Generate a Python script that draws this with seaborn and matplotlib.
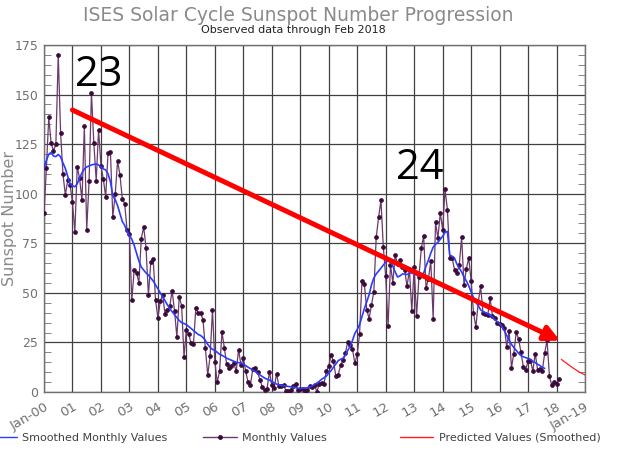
import numpy as np
import pandas as pd
import seaborn as sns
import matplotlib.pyplot as plt
from matplotlib.lines import Line2D

# monthly sunspot numbers, Jan 2000 .. Feb 2018
monthly_values = [
    90.1, 112.9, 138.5, 125.5, 121.6, 124.9, 170.1, 130.5, 109.7, 99.4, 106.8, 104.4,
    95.6, 80.6, 113.5, 107.7, 96.6, 134.0, 81.8, 106.4, 150.7, 125.5, 106.5, 132.2,
    114.1, 107.4, 98.4, 120.7, 120.8, 88.3, 99.6, 116.4, 109.6, 97.5, 95.0, 81.6,
    79.5, 46.2, 61.5, 60.0, 55.2, 77.4, 83.3, 72.7, 48.7, 65.5, 67.3, 46.5,
    37.3, 45.8, 49.1, 39.3, 41.5, 43.2, 51.1, 40.9, 27.7, 48.0, 43.5, 17.9,
    31.3, 29.2, 24.5, 24.4, 42.6, 39.6, 39.9, 36.4, 22.1, 8.5, 18.0, 41.2,
    15.3, 4.9, 10.6, 30.2, 22.3, 13.9, 12.2, 12.9, 14.4, 10.5, 21.4, 13.6,
    16.9, 10.6, 4.8, 3.7, 11.7, 12.0, 10.0, 6.2, 2.4, 0.9, 1.7, 10.1,
    3.3, 2.1, 9.3, 2.9, 3.2, 3.4, 0.5, 0.5, 1.1, 2.9, 4.1, 0.8,
    1.5, 1.4, 0.7, 1.2, 2.9, 2.6, 3.5, 0.0, 4.2, 4.6, 4.2, 10.6,
    13.1, 18.6, 15.4, 7.9, 8.8, 13.5, 16.1, 19.6, 25.2, 23.5, 21.6, 14.5,
    19.0, 29.4, 56.2, 54.4, 41.6, 37.0, 43.9, 50.6, 78.0, 88.0, 96.7, 73.0,
    58.3, 33.1, 64.2, 55.2, 69.0, 64.5, 66.5, 63.0, 61.4, 53.3, 61.8, 40.8,
    62.9, 38.1, 57.9, 72.4, 78.7, 52.5, 57.0, 66.0, 37.0, 85.6, 77.6, 90.3,
    81.8, 102.3, 91.9, 67.5, 67.5, 61.7, 60.1, 64.1, 78.0, 54.0, 62.2, 67.7,
    55.8, 40.0, 32.7, 45.2, 53.3, 39.9, 39.5, 38.6, 47.2, 38.2, 37.3, 34.8,
    34.2, 33.8, 32.5, 22.7, 30.9, 12.3, 19.4, 30.1, 26.8, 20.0, 12.8, 11.1,
    15.7, 15.8, 10.6, 19.4, 11.3, 11.5, 10.7, 19.6, 26.2, 7.9, 3.4, 4.9,
    4.1, 6.4,
]

# 13-month smoothed values, Jan 2000 .. Aug 2017
smoothed_values = [
    112.9, 116.8, 119.9, 120.8, 119.0, 118.7, 119.8, 118.6, 115.5, 112.7, 108.8, 104.8,
    104.0, 103.5, 105.0, 108.0, 110.5, 112.5, 113.5, 114.0, 114.5, 114.8, 115.0, 114.5,
    113.5, 112.5, 112.0, 110.0, 106.0, 99.0, 97.0, 94.0, 90.0, 86.0, 84.0, 81.0,
    79.0, 77.0, 74.0, 70.0, 66.0, 63.0, 61.5, 60.0, 59.0, 57.5, 56.0, 54.0,
    52.0, 50.0, 48.0, 46.0, 44.0, 42.0, 40.5, 39.0, 37.5, 36.0, 35.0, 34.5,
    34.0, 33.0, 32.0, 31.0, 30.0, 29.0, 28.5, 27.5, 26.0, 24.0, 22.5, 21.5,
    21.0, 20.0, 19.0, 18.5, 17.8, 17.0, 16.5, 16.0, 15.5, 15.0, 14.8, 14.5,
    14.0, 13.3, 12.5, 11.8, 11.0, 10.3, 9.5, 8.6, 7.8, 7.0, 6.5, 6.0,
    5.3, 4.6, 4.0, 3.6, 3.3, 3.2, 3.0, 2.8, 2.6, 2.4, 2.2, 1.9,
    1.8, 1.9, 2.0, 2.2, 2.5, 3.0, 3.8, 4.5, 5.4, 6.4, 7.2, 8.0,
    9.5, 10.8, 12.5, 14.2, 15.8, 16.5, 17.0, 18.5, 21.0, 23.0, 26.0, 29.5,
    31.5, 34.0, 38.0, 42.0, 45.5, 49.0, 54.0, 57.5, 59.5, 61.0, 62.5, 64.0,
    65.5, 66.5, 65.5, 63.5, 60.5, 58.0, 58.5, 59.5, 59.5, 59.2, 60.0, 60.0,
    59.5, 59.0, 58.5, 58.5, 60.0, 63.5, 66.5, 70.0, 73.0, 74.5, 75.5, 77.0,
    78.5, 80.5, 81.0, 69.0, 68.5, 67.5, 64.5, 62.5, 60.5, 58.0, 56.0, 53.5,
    50.5, 47.5, 45.5, 43.5, 41.5, 40.5, 40.0, 39.5, 38.8, 37.8, 36.5, 35.5,
    34.5, 33.0, 31.0, 28.5, 26.0, 24.0, 22.5, 21.0, 19.5, 18.3, 17.8, 17.3,
    17.0, 16.5, 15.5, 14.8, 14.0, 13.3, 12.5, 11.9,
]

# predicted smoothed values, Mar 2018 .. Jan 2019
predicted_values = [16.5, 15.5, 14.7, 13.8, 12.9, 12.1, 11.3, 10.5, 9.8, 9.2, 8.6]
predicted_start = 218  # months after Jan 2000

tick_labels = ['Jan-00'] + [f'{y:02d}' for y in range(1, 19)] + ['Jan-19']

monthly = pd.DataFrame({'year': np.arange(len(monthly_values)) / 12.0,
                        'ssn': monthly_values})
smoothed = pd.DataFrame({'year': np.arange(len(smoothed_values)) / 12.0,
                         'ssn': smoothed_values})
predicted = pd.DataFrame({'year': (predicted_start + np.arange(len(predicted_values))) / 12.0,
                          'ssn': predicted_values})

sns.set_style('white')
plt.rcParams['font.family'] = ['DejaVu Sans']

fig = plt.figure(figsize=(6.35, 4.72), dpi=100)
ax = fig.add_axes([0.0693, 0.1695, 0.852, 0.7352])

gray = '#707070'
purple = '#6a3a6a'

sns.lineplot(data=monthly, x='year', y='ssn', ax=ax, color=purple, lw=0.9,
             marker='o', markersize=2.6, markerfacecolor='#3a0a3a',
             markeredgecolor='#3a0a3a', zorder=3)
sns.lineplot(data=smoothed, x='year', y='ssn', ax=ax, color='#2a3cff', lw=1.2, zorder=4)
sns.lineplot(data=predicted, x='year', y='ssn', ax=ax, color='#ff2020', lw=0.9, zorder=4)

ax.set_xlim(0, 19)
ax.set_ylim(0, 175)
ax.set_xticks(range(0, 20))
ax.set_xticklabels(tick_labels, rotation=30, ha='right', rotation_mode='anchor',
                   color=gray, fontsize=9.5)
ax.set_yticks(range(0, 176, 25))
ax.set_yticklabels([str(v) for v in range(0, 176, 25)], color=gray, fontsize=9)
ax.set_yticks(range(0, 176, 5), minor=True)
ax.tick_params(axis='y', which='minor', direction='in', length=5, color=gray,
               left=True, right=True)
ax.tick_params(axis='y', which='major', direction='in', length=0, pad=4)
ax.tick_params(axis='x', which='major', length=0, pad=6)
ax.grid(True, which='major', color='#404040', lw=0.9)
ax.set_axisbelow(True)
for s in ax.spines.values():
    s.set_color(gray)
    s.set_linewidth(1.0)
ax.set_xlabel('')
ax.set_ylabel('')

fig.text(0.0025, 0.538, 'Sunspot Number', rotation=90, ha='left', va='center',
         color='#8a8a8a', fontsize=11.5)
fig.text(0.47, 0.968, 'ISES Solar Cycle Sunspot Number Progression', ha='center',
         va='center', color='#8a8a8a', fontsize=13.5)
fig.text(0.462, 0.937, 'Observed data through Feb 2018', ha='center', va='center',
         color='#202020', fontsize=8)

# trend arrow and cycle labels
ax.annotate('', xy=(18.12, 25.9), xytext=(1.0, 142.2),
            arrowprops=dict(arrowstyle='-|>,head_length=0.9,head_width=0.45',
                            color='#ff0000', lw=3.6, shrinkA=0, shrinkB=0), zorder=6)
ax.text(1.08, 160, '23', fontsize=30, color='black', va='center', ha='left',
        family='Open Sans', zorder=7)
ax.text(12.35, 113, '24', fontsize=30, color='black', va='center', ha='left',
        family='Open Sans', zorder=7)

# legend row under the plot
handles = [Line2D([], [], color='#2a3cff', lw=1.0),
           Line2D([], [], color=purple, lw=1.0, marker='o', markersize=2.5,
                  markerfacecolor='#3a0a3a', markeredgecolor='#3a0a3a'),
           Line2D([], [], color='#ff2020', lw=1.0)]
labels = ['Smoothed Monthly Values', 'Monthly Values', 'Predicted Values (Smoothed)']
xs = [-0.012, 0.32, 0.63]
lens = [2.2, 3.0, 3.0]
for h, lab, x0, hl in zip(handles, labels, xs, lens):
    leg = fig.legend([h], [lab], loc='center left', bbox_to_anchor=(x0, 0.073),
                     frameon=False, fontsize=8, handlelength=hl,
                     handletextpad=0.5, borderaxespad=0, borderpad=0)
    for t in leg.get_texts():
        t.set_color('#404040')

fig.savefig('out.png', dpi=100)
